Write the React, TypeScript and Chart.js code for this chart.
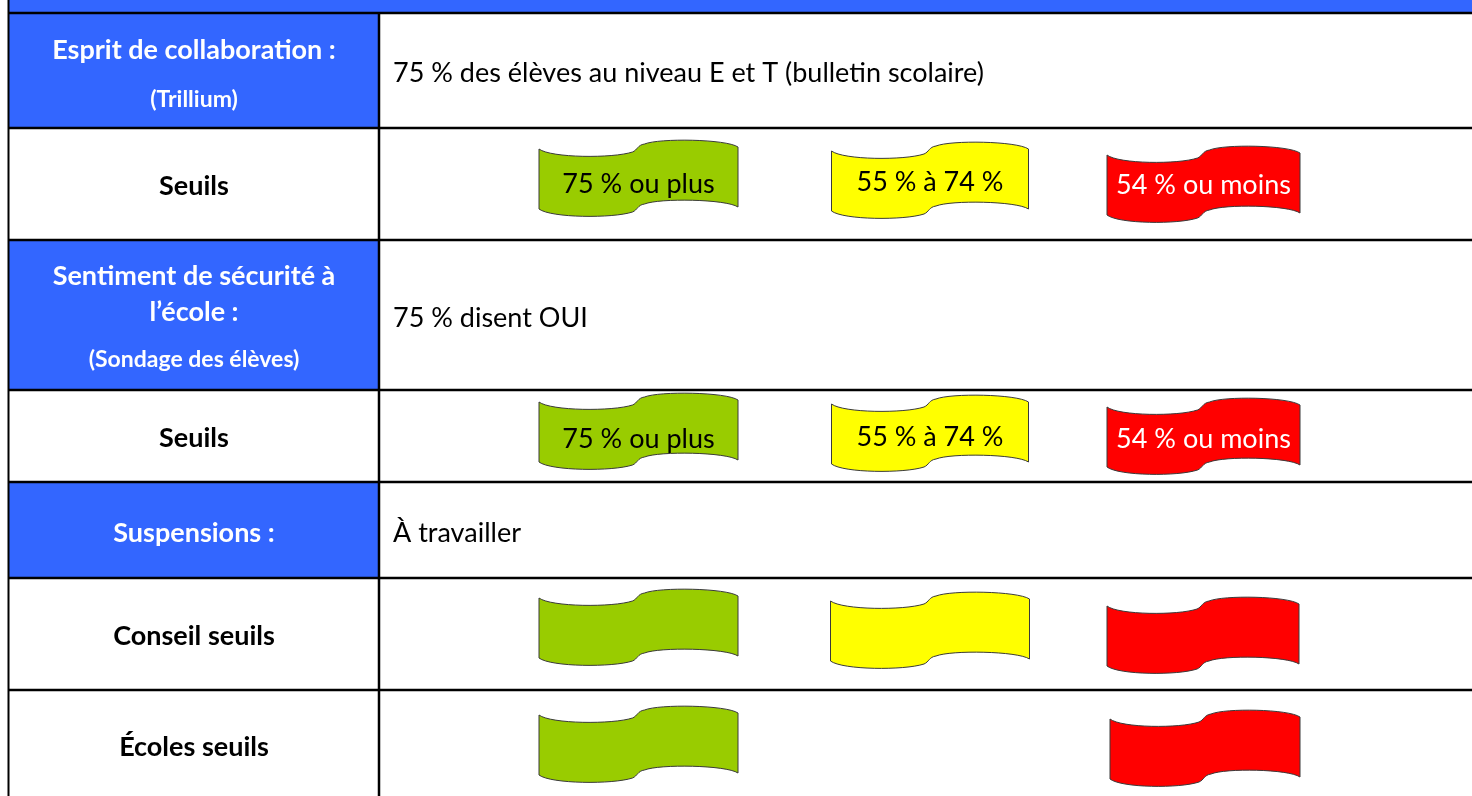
import React, { useEffect, useRef } from "react";
import { Chart, registerables } from "chart.js";

Chart.register(...registerables);

// ---------- content ----------
const indicatorTitles: string[][] = [
  ["Esprit de collaboration :"],
  ["Sentiment de sécurité à", "l’école :"],
  ["Suspensions :"],
];
const indicatorSources: string[] = ["(Trillium)", "(Sondage des élèves)", ""];
const indicatorTargets: string[] = [
  "75 % des élèves au niveau E et T (bulletin scolaire)",
  "75 % disent OUI",
  "À travailler",
];
const thresholdRowLabels: string[] = ["Seuils", "Seuils", "Conseil seuils", "Écoles seuils"];
const bandLabels: string[] = ["75 % ou plus", "55 % à 74 %", "54 % ou moins"];
const bandShown: boolean[][] = [
  [true, true, true],
  [true, true, true],
  [true, true, true],
  [true, false, true],
];
const bandLabelShown: boolean[] = [true, true, false, false];

// ---------- layout (table units = px) ----------
const W = 1472;
const H = 796;
// row order: indicator0, threshold0, indicator1, threshold1, indicator2, threshold2, threshold3
const rowKinds = ["ind", "thr", "ind", "thr", "ind", "thr", "thr"];
const rowEdges = [13, 128, 240, 390, 482, 578, 690, 800];
const colLeft = 9;
const colDivider = 379;
const descX = 393;
// baselines
const indTitleBaselines = [[59], [285, 321], [542]];
const indSourceBaselines = [107, 367, 0];
const indTargetBaselines = [82, 327, 542];
const thrLabelBaselines = [195, 447, 645, 756];
// banners
const bannerCx = [
  [638.5, 930, 1203.5],
  [638.5, 930, 1203.5],
  [638.5, 930, 1203],
  [638.5, 930, 1205],
];
const bannerW = [
  [199, 197, 193],
  [199, 197, 193],
  [199, 199, 192],
  [199, 199, 190],
];
const bannerTop = [
  [149, 151, 155],
  [402, 404, 407],
  [598, 601, 606],
  [715, 717, 719],
];
const bannerTextBase = [
  [193, 191, 194],
  [448, 446, 448],
  [0, 0, 0],
  [0, 0, 0],
];
const BANNER_H = 60;

// ---------- styles ----------
const BLUE = "#3366FF";
const bandColors = ["#99CC00", "#FFFF00", "#FF0000"];
const bandTextColors = ["#000000", "#000000", "#FFFFFF"];
const FONT = "Lato, 'Open Sans', sans-serif";

function bannerPath(ctx: CanvasRenderingContext2D, cx: number, cy: number, w: number, h: number) {
  const L = cx - w / 2;
  const R = cx + w / 2;
  const M = cx;
  const hw = w / 2;
  const y0 = cy - h / 2;
  const yb = y0 + h;
  const a = M - 6; // end of left arc
  const b = M + 6; // start of right arc
  ctx.beginPath();
  ctx.moveTo(L, y0);
  ctx.bezierCurveTo(L + 0.12 * hw, y0 + 9, a - 0.2 * hw, y0 + 9.5, a, y0 + 3);
  ctx.bezierCurveTo(M - 1, y0 + 1, M - 1, y0 - 4, b, y0 - 5);
  ctx.bezierCurveTo(b + 0.15 * hw, y0 - 11, R - 0.12 * hw, y0 - 10, R, y0 - 2);
  ctx.lineTo(R, yb - 2);
  ctx.bezierCurveTo(R - 0.12 * hw, yb - 10, b + 0.15 * hw, yb - 11, b, yb - 5);
  ctx.bezierCurveTo(M - 1, yb - 4, M - 1, yb + 1, a, yb + 3);
  ctx.bezierCurveTo(a - 0.2 * hw, yb + 9.5, L + 0.12 * hw, yb + 9, L, yb);
  ctx.closePath();
}

const tablePlugin = {
  id: "tablePlugin",
  beforeDatasetsDraw(chart: any) {
    const ctx: CanvasRenderingContext2D = chart.ctx;
    const xs = chart.scales.x;
    const ys = chart.scales.y;
    const px = (v: number) => xs.getPixelForValue(v);
    const py = (v: number) => ys.getPixelForValue(v);
    ctx.save();
    ctx.fillStyle = "#FFFFFF";
    ctx.fillRect(0, 0, chart.width, chart.height);
    // top band
    ctx.fillStyle = BLUE;
    ctx.fillRect(px(colLeft), py(0), px(W) - px(colLeft), py(rowEdges[0]) - py(0));
    // blue header cells
    rowKinds.forEach((k, i) => {
      if (k === "ind") {
        ctx.fillStyle = BLUE;
        ctx.fillRect(px(colLeft), py(rowEdges[i]), px(colDivider) - px(colLeft), py(rowEdges[i + 1]) - py(rowEdges[i]));
      }
    });
    // grid lines
    ctx.strokeStyle = "#000000";
    ctx.lineWidth = 2.5;
    rowEdges.slice(0, 7).forEach((e) => {
      ctx.beginPath();
      ctx.moveTo(px(colLeft - 1), py(e));
      ctx.lineTo(px(W), py(e));
      ctx.stroke();
    });
    ctx.lineWidth = 2;
    ctx.beginPath();
    ctx.moveTo(px(colLeft - 0.5), py(0));
    ctx.lineTo(px(colLeft - 0.5), py(H));
    ctx.stroke();
    ctx.lineWidth = 2.5;
    ctx.beginPath();
    ctx.moveTo(px(colDivider), py(rowEdges[0]));
    ctx.lineTo(px(colDivider), py(H));
    ctx.stroke();

    // texts
    const midX = px((colLeft + colDivider) / 2);
    ctx.textBaseline = "alphabetic";
    let ind = 0;
    let thr = 0;
    rowKinds.forEach((k) => {
      if (k === "ind") {
        ctx.fillStyle = "#FFFFFF";
        ctx.textAlign = "center";
        ctx.font = `bold 27px ${FONT}`;
        indicatorTitles[ind].forEach((t, j) => ctx.fillText(t, midX, py(indTitleBaselines[ind][j])));
        if (indicatorSources[ind]) {
          ctx.font = `bold 23px ${FONT}`;
          ctx.fillText(indicatorSources[ind], midX, py(indSourceBaselines[ind]));
        }
        ctx.fillStyle = "#000000";
        ctx.textAlign = "left";
        ctx.font = `27px ${FONT}`;
        ctx.fillText(indicatorTargets[ind], px(descX), py(indTargetBaselines[ind]));
        ind++;
      } else {
        ctx.fillStyle = "#000000";
        ctx.textAlign = "center";
        ctx.font = `bold 27px ${FONT}`;
        ctx.fillText(thresholdRowLabels[thr], midX, py(thrLabelBaselines[thr]));
        thr++;
      }
    });
    ctx.restore();
  },
  afterDatasetsDraw(chart: any) {
    const ctx: CanvasRenderingContext2D = chart.ctx;
    const xs = chart.scales.x;
    const ys = chart.scales.y;
    ctx.save();
    chart.data.datasets.forEach((ds: any, b: number) => {
      const meta = chart.getDatasetMeta(b);
      meta.data.forEach((pt: any, i: number) => {
        const raw = ds.data[i];
        const w = xs.getPixelForValue(raw.x + raw.w / 2) - xs.getPixelForValue(raw.x - raw.w / 2);
        const h = ys.getPixelForValue(BANNER_H) - ys.getPixelForValue(0);
        bannerPath(ctx, pt.x, pt.y, w, h);
        ctx.fillStyle = bandColors[b];
        ctx.fill();
        ctx.strokeStyle = "#3a3a3a";
        ctx.lineWidth = 1;
        ctx.stroke();
        if (raw.label) {
          ctx.fillStyle = bandTextColors[b];
          ctx.textAlign = "center";
          ctx.textBaseline = "alphabetic";
          ctx.font = `27px ${FONT}`;
          ctx.fillText(raw.label, pt.x, ys.getPixelForValue(raw.base));
        }
      });
    });
    ctx.restore();
  },
};

export default function App() {
  const ref = useRef<HTMLCanvasElement | null>(null);
  useEffect(() => {
    document.body.style.margin = "0";
    if (!ref.current) return;
    const datasets = bandLabels.map((lab, b) => ({
      label: lab,
      data: thresholdRowLabels
        .map((_, r) =>
          bandShown[r][b]
            ? {
                x: bannerCx[r][b],
                y: bannerTop[r][b] + BANNER_H / 2,
                w: bannerW[r][b],
                label: bandLabelShown[r] ? lab : "",
                base: bannerTextBase[r][b],
              }
            : null
        )
        .filter((d) => d !== null),
      pointRadius: 0,
      showLine: false,
    }));
    const chart = new Chart(ref.current, {
      type: "scatter",
      data: { datasets: datasets as any },
      options: {
        responsive: false,
        animation: false,
        devicePixelRatio: 1,
        layout: { padding: 0 },
        events: [],
        scales: {
          x: { type: "linear", min: 0, max: W, display: false },
          y: { type: "linear", min: 0, max: H, reverse: true, display: false },
        },
        plugins: { legend: { display: false }, tooltip: { enabled: false } },
      },
      plugins: [tablePlugin],
    });
    return () => chart.destroy();
  }, []);
  return (
    <div style={{ width: W, height: H, overflow: "hidden" }}>
      <canvas ref={ref} width={W} height={H} style={{ display: "block", width: W, height: H }} />
    </div>
  );
}
